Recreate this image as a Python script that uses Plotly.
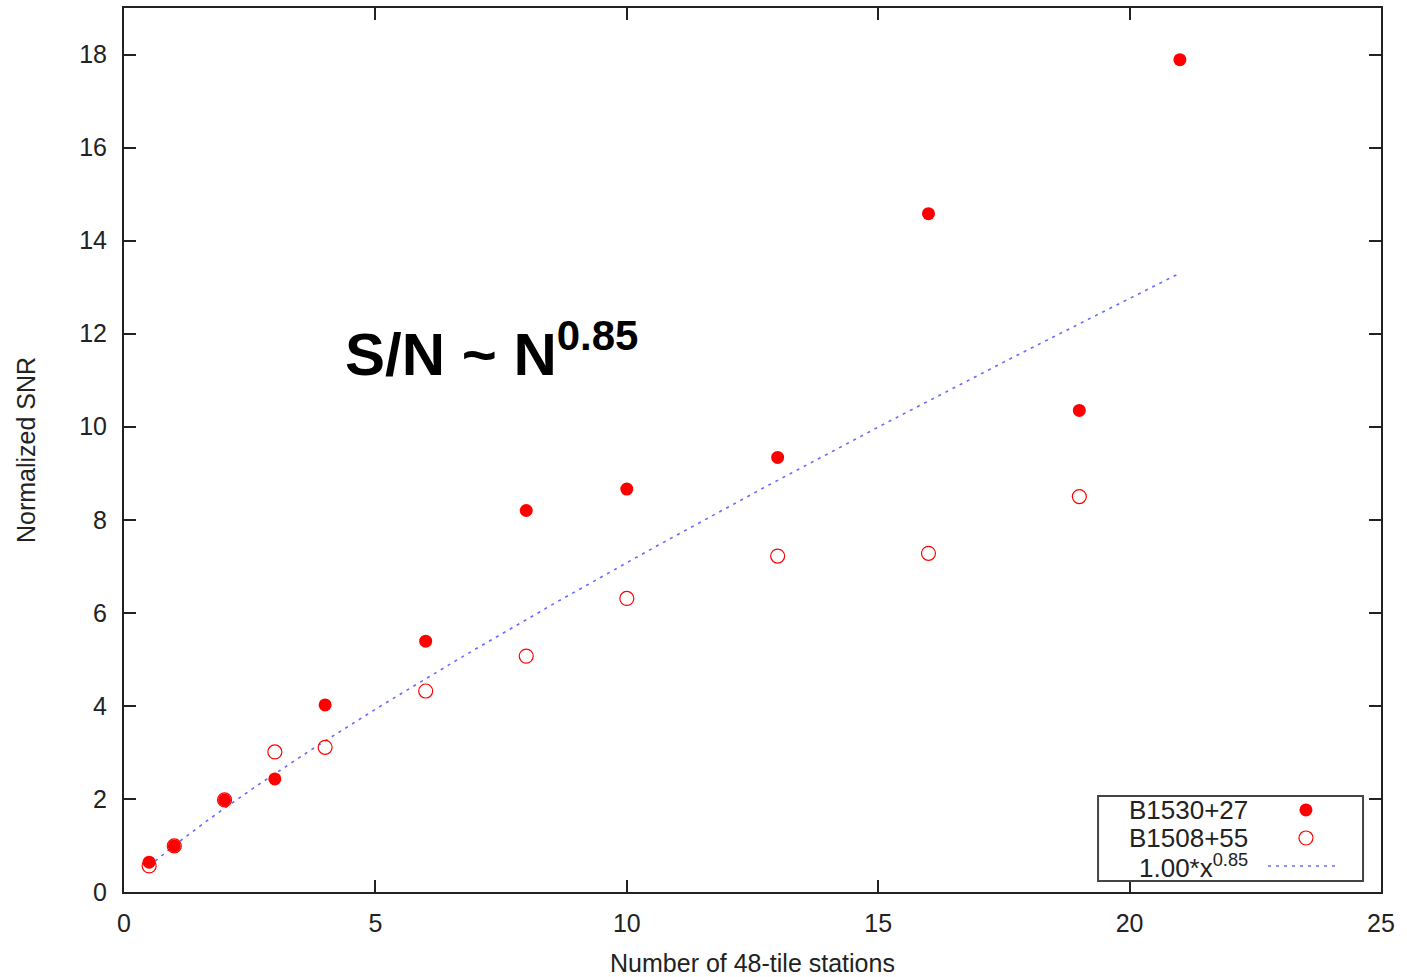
import numpy as np
import plotly.graph_objects as go

# Number of 48-tile stations
stations = [0.5, 1, 2, 3, 4, 6, 8, 10, 13, 16, 19, 21]
stations_b = [0.5, 1, 2, 3, 4, 6, 8, 10, 13, 16, 19]

# Normalized SNR per source
snr_b1530 = [0.64, 0.99, 1.98, 2.43, 4.02, 5.39, 8.20, 8.66, 9.34, 14.58, 10.35, 17.89]
snr_b1508 = [0.56, 0.99, 1.98, 3.01, 3.11, 4.32, 5.07, 6.31, 7.22, 7.28, 8.50]

# Power-law model 1.00 * x^0.85
fit_coef = 1.00
fit_exp = 0.85
fit_x = np.linspace(0.5, 21, 200)
fit_y = fit_coef * fit_x ** fit_exp

x_ticks = [0, 5, 10, 15, 20, 25]
y_ticks = [0, 2, 4, 6, 8, 10, 12, 14, 16, 18]

RED = "#ff0000"
FIT = "rgb(105,105,255)"
AX = "#222222"
FONT = "Liberation Sans, Arial, sans-serif"

fig = go.Figure()

fig.add_trace(go.Scatter(
    x=fit_x, y=fit_y, mode="lines",
    line=dict(color=FIT, width=1.6, dash="3px,5px"),
    hoverinfo="skip", showlegend=False))

fig.add_trace(go.Scatter(
    x=stations_b, y=snr_b1508, mode="markers",
    marker=dict(symbol="circle-open", size=14, color=RED, line=dict(width=1.2, color=RED)),
    showlegend=False))

fig.add_trace(go.Scatter(
    x=stations, y=snr_b1530, mode="markers",
    marker=dict(symbol="circle", size=13, color=RED, line=dict(width=0)),
    showlegend=False))

# Key samples drawn on an overlay axis spanning the plot area (0..1)
key_x = 0.9403
key_rows = [0.0928, 0.0611, 0.0294]
fig.add_trace(go.Scatter(
    x=[key_x], y=[key_rows[0]], xaxis="x2", yaxis="y2", mode="markers",
    marker=dict(symbol="circle", size=13, color=RED), showlegend=False, hoverinfo="skip"))
fig.add_trace(go.Scatter(
    x=[key_x], y=[key_rows[1]], xaxis="x2", yaxis="y2", mode="markers",
    marker=dict(symbol="circle-open", size=14, color=RED, line=dict(width=1.2, color=RED)),
    showlegend=False, hoverinfo="skip"))
fig.add_trace(go.Scatter(
    x=[0.9101, 0.9674], y=[key_rows[2], key_rows[2]], xaxis="x2", yaxis="y2", mode="lines",
    line=dict(color=FIT, width=1.6, dash="3px,5px"), showlegend=False, hoverinfo="skip"))

axis_common = dict(
    showline=True, linewidth=2, linecolor=AX, mirror="ticks",
    ticks="inside", ticklen=12, tickwidth=1.5, tickcolor=AX,
    showgrid=False, zeroline=False, automargin=False,
    tickfont=dict(family=FONT, size=25, color=AX),
)

fig.update_layout(
    width=1407, height=977,
    margin=dict(l=124, r=26, t=8, b=85),
    paper_bgcolor="white", plot_bgcolor="white",
    font=dict(family=FONT, color=AX),
    xaxis=dict(range=[0, 25], tickvals=x_ticks, ticklabelstandoff=8, **axis_common,
               title=dict(text="Number of 48-tile stations",
                          font=dict(family=FONT, size=25, color=AX), standoff=18)),
    yaxis=dict(range=[0, 19], tickvals=y_ticks, ticklabelstandoff=10, **axis_common,
               title=dict(text="Normalized SNR",
                          font=dict(family=FONT, size=25, color=AX), standoff=36)),
    xaxis2=dict(range=[0, 1], overlaying="x", visible=False, fixedrange=True),
    yaxis2=dict(range=[0, 1], overlaying="y", visible=False, fixedrange=True),
    shapes=[dict(type="rect", xref="paper", yref="paper",
                 x0=0.7749, x1=0.9857, y0=0.0124, y1=0.1086,
                 line=dict(color="#444444", width=2), fillcolor="rgba(0,0,0,0)")],
    annotations=[
        dict(text="B1530+27", xref="paper", yref="paper", x=0.8958, y=key_rows[0],
             xanchor="right", yanchor="middle", showarrow=False,
             font=dict(family=FONT, size=26, color=AX)),
        dict(text="B1508+55", xref="paper", yref="paper", x=0.8958, y=key_rows[1],
             xanchor="right", yanchor="middle", showarrow=False,
             font=dict(family=FONT, size=26, color=AX)),
        dict(text="1.00*x<sup>0.85</sup>", xref="paper", yref="paper", x=0.8958, y=key_rows[2],
             xanchor="right", yanchor="middle", showarrow=False,
             font=dict(family=FONT, size=26, color=AX)),
        dict(text="<b>S/N ~ N<sup>0.85</sup></b>", xref="paper", yref="paper",
             x=0.1742, y=0.613, xanchor="left", yanchor="middle", showarrow=False,
             font=dict(family=FONT, size=60, color="black")),
    ],
)

fig.write_html("out.html")
